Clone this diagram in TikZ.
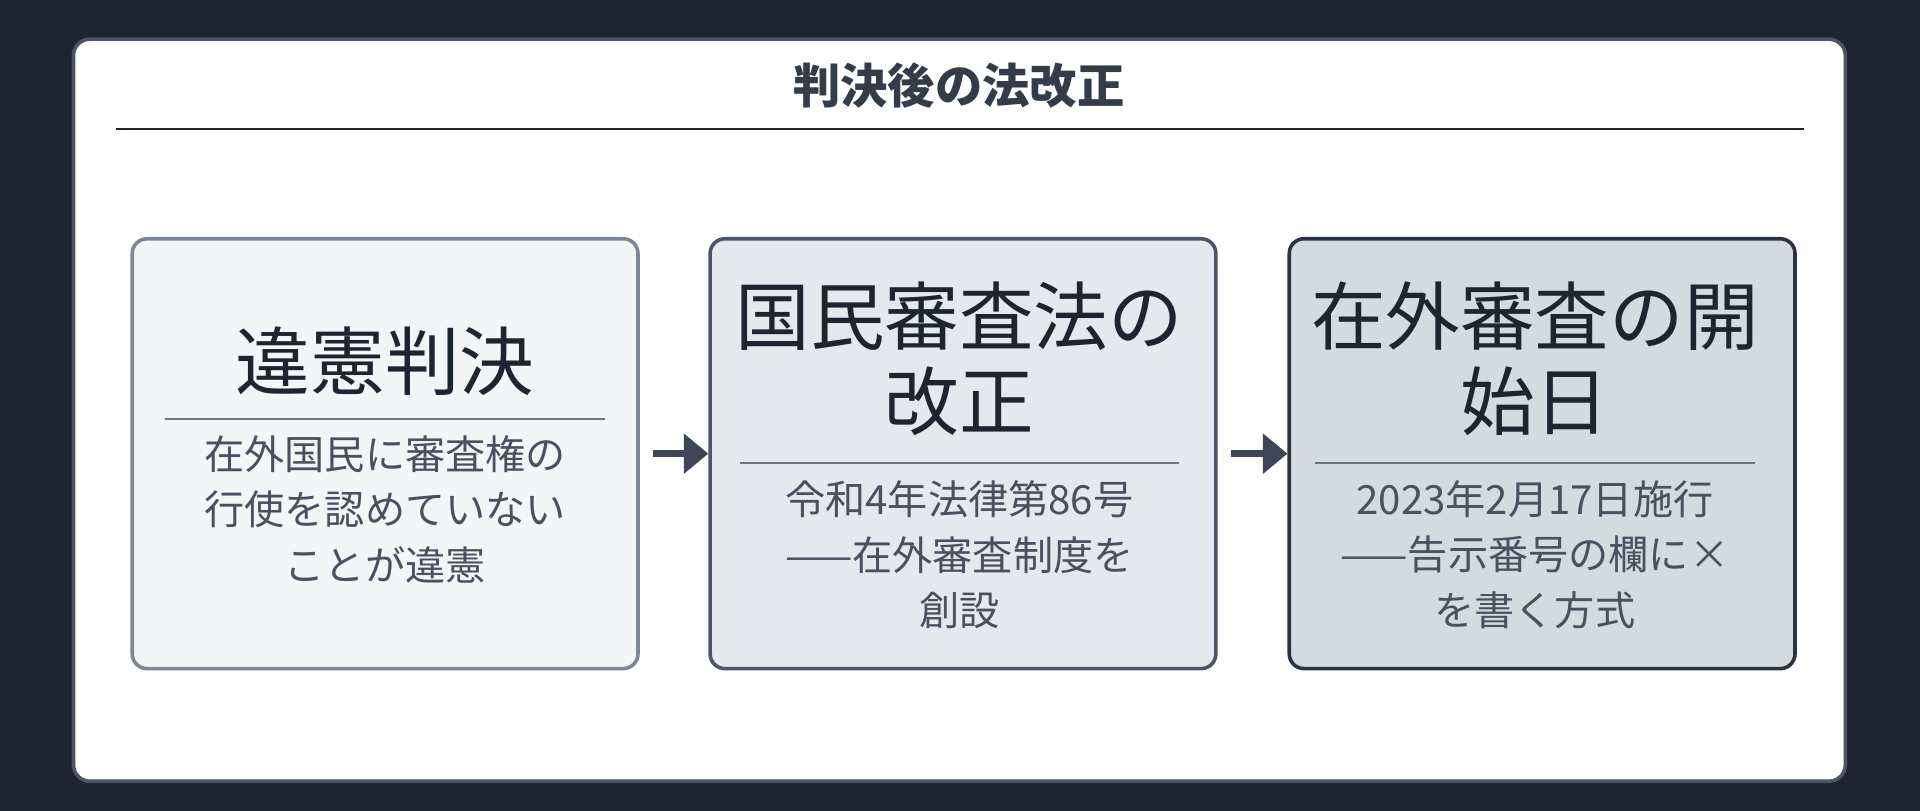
\documentclass[tikz,border=0pt]{standalone}
\usepackage{fontspec}
\setmainfont{Noto Sans CJK JP}
\usetikzlibrary{arrows.meta,positioning}
\definecolor{bgdark}{HTML}{1E2430}
\definecolor{panelline}{HTML}{4A5568}
\definecolor{inkdark}{HTML}{1F2530}
\definecolor{inkbody}{HTML}{4A5060}
\definecolor{fillA}{HTML}{F4F5F7}
\definecolor{fillB}{HTML}{E5E8ED}
\definecolor{fillC}{HTML}{D5D9E0}
\definecolor{drawA}{HTML}{7F8796}
\definecolor{drawB}{HTML}{4D5666}
\definecolor{drawC}{HTML}{2B3240}
\definecolor{arrowc}{HTML}{3D4556}

\begin{document}
\begin{tikzpicture}[
		x=0.03cm, y=-0.03cm,
		stage/.style={draw, rounded corners=0.36cm, line width=2.5pt, minimum width=12.39cm, minimum height=10.53cm, inner sep=0pt},
		headtext/.style={text=inkdark, font=\fontsize{52}{59}\selectfont, align=center},
		bodytext/.style={text=inkbody, font=\fontsize{28}{38.5}\selectfont, align=center},
		rule/.style={draw=inkbody!80, line width=1pt},
		flow/.style={draw=arrowc, line width=5pt, -{Triangle[length=0.6cm,width=0.95cm]}, shorten <=0.33cm},
	]
		\fill[bgdark] (0,0) rectangle (1568,662);
		\useasboundingbox (0,0) rectangle (1568,662);
		\draw[panelline, fill=white, line width=2.5pt, rounded corners=0.4cm] (60,32) rectangle (1507,638);

		\node[text=panelline!70!black, font=\fontsize{33}{40}\selectfont\bfseries] (title) at (783,70) {判決後の法改正};
		\draw[inkdark, line width=1.5pt] (95,105) -- (1473,105);

		% three stages
		\node[stage, fill=fillA, draw=drawA] (judg) at (314.5,370.5) {};
		\node[stage, fill=fillB, draw=drawB, right=1.68cm of judg] (reform) {};
		\node[stage, fill=fillC, draw=drawC, right=1.71cm of reform] (start) {};

		\node[headtext] (judgh) at (314.5,295) {違憲判決};
		\draw[rule] (135,342) -- (494,342);
		\node[bodytext] (judgb) at (314.5,416) {在外国民に審査権の\\行使を認めていない\\ことが違憲};

		\node[headtext] (reformh) at (783.5,293) {国民審査法の\\改正};
		\draw[rule] (604,378) -- (963,378);
		\node[bodytext] (reformb) at (783.5,453) {令和4年法律第86号\\——在外審査制度を\\創設};

		\node[headtext] (starth) at (1253.5,293) {在外審査の開\\始日};
		\draw[rule] (1074,378) -- (1433,378);
		\node[bodytext] (startb) at (1253.5,453) {2023年2月17日施行\\——告示番号の欄に×\\を書く方式};

		\draw[flow] (judg) -- (reform);
		\draw[flow] (reform) -- (start);
	\end{tikzpicture}
\end{document}
